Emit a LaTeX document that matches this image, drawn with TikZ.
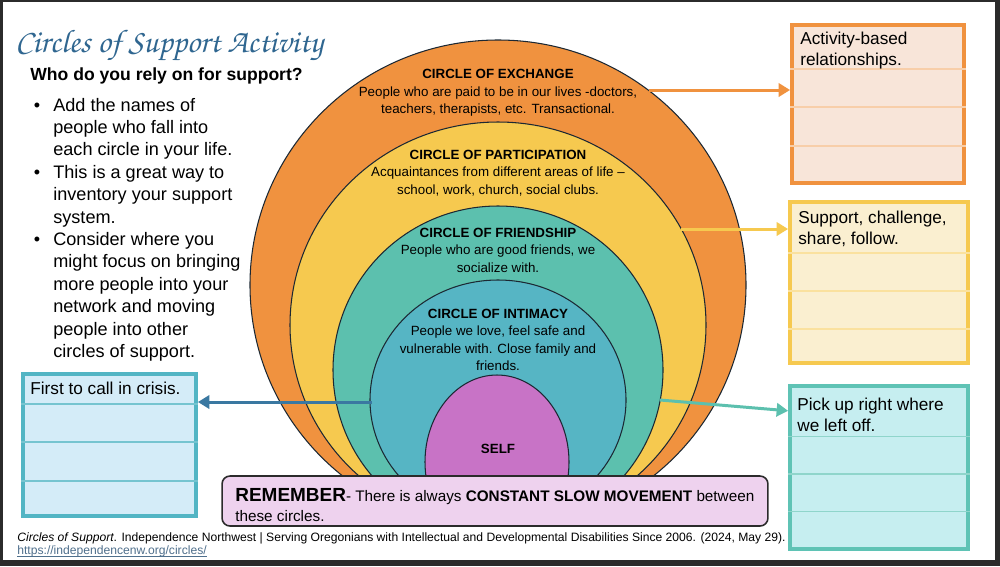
\documentclass[tikz,border=0pt]{standalone}
\usepackage[T1]{fontenc}
\usepackage{fontspec}
\setmainfont{Liberation Sans}
\usetikzlibrary{arrows.meta,calc}

\definecolor{framegray}{HTML}{2B2B2B}
\definecolor{ringline}{HTML}{1C2833}
\definecolor{xchgorange}{HTML}{F0923F}
\definecolor{partyellow}{HTML}{F6C94F}
\definecolor{friendteal}{HTML}{5CC0AE}
\definecolor{intimblue}{HTML}{56B5C4}
\definecolor{selfpurple}{HTML}{C873C6}
\definecolor{titleblue}{HTML}{2F6690}
\definecolor{arrowblue}{HTML}{3A78A1}
\definecolor{xchgfill}{HTML}{F8E5D9}
\definecolor{partfill}{HTML}{FAEFD0}
\definecolor{friendfill}{HTML}{C6EEF0}
\definecolor{intimfill}{HTML}{D4ECF8}
\definecolor{friendborder}{HTML}{5FC3B5}
\definecolor{intimborder}{HTML}{52B5C4}
\definecolor{rememberfill}{HTML}{EED2EE}
\definecolor{linkblue}{HTML}{4F6F8C}

\newcommand{\titlescript}{\fontencoding{T1}\fontfamily{pzc}\fontseries{mb}\fontshape{it}\selectfont}

\tikzset{
    ring/.style={draw=ringline, line width=0.6pt},
    ringtext/.style={align=center, font=\fontsize{7.6}{9.9}\selectfont},
    listbox/.style={draw=#1, line width=2.2pt},
    rowline/.style={draw=#1, line width=1pt},
    notetext/.style={anchor=base west, align=left, inner sep=0pt, font=\fontsize{9.8}{11.9}\selectfont},
    flow/.style={line width=1.7pt, -{Triangle[length=6.5pt,width=7.5pt]}},
}

\begin{document}
\begin{tikzpicture}[x=0.02cm, y=-0.02cm]
    % slide on dark screen
    \fill[framegray] (0,0) rectangle (1000,566);
    \fill[white] (3,2) rectangle (995,560);
    \useasboundingbox (0,0) rectangle (1000,566);

    % heading and bullets
    \node[anchor=base west, inner sep=0pt, text=titleblue, font=\fontsize{18.6}{20}\titlescript] (title) at (15,52) {Circles of Support Activity};
    \node[anchor=base west, inner sep=0pt, font=\fontsize{10}{12}\selectfont\bfseries] (question) at (30,80) {Who do you rely on for support?};
    \node[anchor=base west, inner sep=0pt, align=left, font=\fontsize{10.3}{12.75}\selectfont] (howto) at (53,357.5) {%
        \llap{\textbullet\hspace{7.5pt}}Add the names of\\ people who fall into\\ each circle in your life.\\
        \llap{\textbullet\hspace{7.5pt}}This is a great way to\\ inventory your support\\ system.\\
        \llap{\textbullet\hspace{7.5pt}}Consider where you\\ might focus on bringing\\ more people into your\\ network and moving\\ people into other\\ circles of support.};

    % rings
    \begin{scope}
        \clip (0,0) rectangle (1000,490);
        \draw[ring, fill=xchgorange] (498,285) ellipse [x radius=248, y radius=245];
        \draw[ring, fill=partyellow] (498,325) ellipse [x radius=208, y radius=203];
        \draw[ring, fill=friendteal] (498,370) ellipse [x radius=165, y radius=164];
        \draw[ring, fill=intimblue] (498,400) ellipse [x radius=128, y radius=120];
        \draw[ring, fill=selfpurple] (497,462) ellipse [x radius=72, y radius=87];
    \end{scope}

    \node[ringtext] (xchg-text) at (498,93) {{\bfseries CIRCLE OF EXCHANGE}\\ People who are paid to be in our lives -doctors,\\ teachers, therapists, etc. Transactional.};
    \node[ringtext] (part-text) at (498,173) {{\bfseries CIRCLE OF PARTICIPATION}\\ Acquaintances from different areas of life --\\ school, work, church, social clubs.};
    \node[ringtext] (friend-text) at (498,250) {{\bfseries CIRCLE OF FRIENDSHIP}\\ People who are good friends, we\\ socialize with.};
    \node[ringtext] (intim-text) at (498,340) {{\bfseries CIRCLE OF INTIMACY}\\ People we love, feel safe and\\ vulnerable with. Close family and\\ friends.};
    \node[ringtext, font=\fontsize{7.6}{9.9}\selectfont\bfseries] (self-text) at (498,449) {SELF};

    % lists
    \node[listbox=xchgorange, fill=xchgfill, minimum width=3.44cm, minimum height=3.16cm] (xchgbox) at (878,104) {};
    \node[listbox=partyellow, fill=partfill, minimum width=3.56cm, minimum height=3.22cm] (partbox) at (879,282.5) {};
    \node[listbox=friendborder, fill=friendfill, minimum width=3.56cm, minimum height=3.26cm] (friendbox) at (879,467.5) {};
    \node[listbox=intimborder, fill=intimfill, minimum width=3.46cm, minimum height=2.84cm] (intimbox) at (109.5,445) {};

    \foreach \f in {0.284,0.519,0.759}
        \draw[rowline=xchgorange!45!white] ($(xchgbox.north west)!\f!(xchgbox.south west)$) -- ($(xchgbox.north east)!\f!(xchgbox.south east)$);
    \foreach \f in {0.321,0.552,0.782}
        \draw[rowline=partyellow!55!white] ($(partbox.north west)!\f!(partbox.south west)$) -- ($(partbox.north east)!\f!(partbox.south east)$);
    \foreach \f in {0.314,0.538,0.763}
        \draw[rowline=friendborder!70!white] ($(friendbox.north west)!\f!(friendbox.south west)$) -- ($(friendbox.north east)!\f!(friendbox.south east)$);
    \foreach \f in {0.219,0.479,0.747}
        \draw[rowline=intimborder!80!white] ($(intimbox.north west)!\f!(intimbox.south west)$) -- ($(intimbox.north east)!\f!(intimbox.south east)$);

    \node[notetext] (xchg-note) at (800,65.5) {Activity-based\\ relationships.};
    \node[notetext] (part-note) at (798,244) {Support, challenge,\\ share, follow.};
    \node[notetext] (friend-note) at (797,431) {Pick up right where\\ we left off.};
    \node[notetext] (intim-note) at (30,394) {First to call in crisis.};

    % arrows
    \coordinate (xchg-from) at (649,90);
    \coordinate (part-from) at (681,229);
    \coordinate (friend-from) at (660,400);
    \coordinate (intim-from) at (372,402);
    \draw[flow, xchgorange] (xchg-from) -- (xchgbox.west |- xchg-from);
    \draw[flow, partyellow] (part-from) -- (partbox.west |- part-from);
    \draw[flow, friendteal] (friend-from) -- ($(friendbox.north west)!0.16!(friendbox.south west)$);
    \draw[flow, arrowblue] (intim-from) -- (intimbox.east |- intim-from);

    % reminder
    \node[draw=framegray, line width=0.9pt, fill=rememberfill, rounded corners=4.5pt, minimum width=10.92cm, minimum height=1cm] (remember) at (495,501) {};
    \node[anchor=base west, inner sep=0pt, align=left, font=\fontsize{8.7}{11.3}\selectfont] (remember-text) at (235,521) {{\fontsize{10.8}{12}\selectfont\bfseries REMEMBER}- There is always \textbf{CONSTANT SLOW MOVEMENT} between\\ these circles.};

    % source
    \node[anchor=base west, inner sep=0pt, font=\fontsize{6.9}{8}\selectfont] (cite) at (17,541) {\textit{Circles of Support}. Independence Northwest | Serving Oregonians with Intellectual and Developmental Disabilities Since 2006. (2024, May 29).};
    \node[anchor=base west, inner sep=0pt, text=linkblue, font=\fontsize{6.9}{8}\selectfont] (link) at (17,554) {https://independencenw.org/circles/};
    \draw[linkblue, line width=0.4pt] ([yshift=-1.1pt]link.base west) -- ([yshift=-1.1pt]link.base east);
\end{tikzpicture}
\end{document}
